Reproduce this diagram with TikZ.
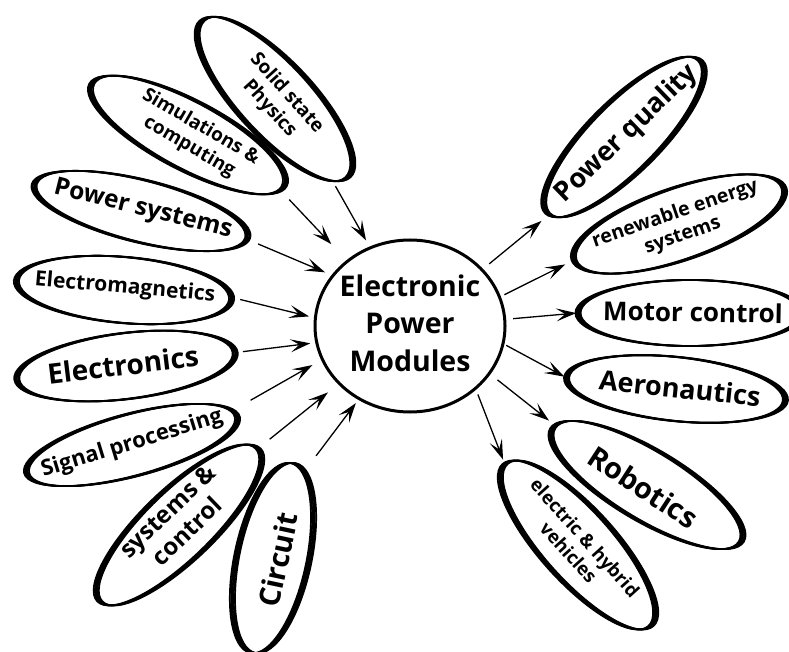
\documentclass[tikz,border=0pt]{standalone}
\usepackage{fontspec}
\setmainfont{Open Sans}
\usetikzlibrary{shapes.geometric,arrows.meta}
\newcommand{\fsz}[2]{\bfseries\fontsize{#1}{#2}\selectfont}
\begin{document}
\begin{tikzpicture}[x=1pt,y=-1pt,
  ell/.style={ellipse, draw, line width=1.7pt, inner sep=0pt,
    preaction={draw, transform canvas={xshift=1.3pt}},
    preaction={draw, transform canvas={xshift=-1.3pt}},
    preaction={draw, transform canvas={xshift=2.6pt}},
    preaction={draw, transform canvas={xshift=-2.6pt}}},
  txt/.style={align=center, inner sep=0pt},
  arr/.style={line width=1.3pt, -{Stealth[length=20pt,width=13pt,inset=9pt]}},
  hub/.style={ellipse, draw, line width=3pt, inner sep=0pt}]
\useasboundingbox (0,0) rectangle (789,652);

% hub
\node[hub, minimum width=190pt, minimum height=172pt] (c) at (410,326) {};
\node[txt, font=\fsz{28.5}{37.5}] (ct) at (410,323) {Electronic\\Power\\Modules};

% left ellipses
\node[ell, rotate=-47, minimum width=214pt, minimum height=74pt] (ss) at (275,99) {};
\node[txt, rotate=-48, font=\fsz{19}{23}] (sst) at (278,101) {Solid state\\Physics};

\node[ell, rotate=-28, minimum width=218pt, minimum height=68pt] (sim) at (188,135) {};
\node[txt, rotate=-30, font=\fsz{19}{23}] (simt) at (195,137) {Simulations \&\\computing};

\node[ell, rotate=-14, minimum width=220pt, minimum height=62pt] (ps) at (141,211) {};
\node[txt, rotate=-14, font=\fsz{24.5}{29}] (pst) at (143,210) {Power systems};

\node[ell, rotate=-5, minimum width=216pt, minimum height=66pt] (em) at (124,290) {};
\node[txt, rotate=-5, font=\fsz{21}{25}] (emt) at (125,288) {Electromagnetics};

\node[ell, rotate=7, minimum width=220pt, minimum height=66pt] (el) at (126,366) {};
\node[txt, rotate=7, font=\fsz{28}{33}] (elt) at (123,365) {Electronics};

\node[ell, rotate=15, minimum width=218pt, minimum height=62pt] (sp) at (132,445) {};
\node[txt, rotate=17, font=\fsz{22}{26}] (spt) at (132,444) {Signal processing};

\node[ell, rotate=44, minimum width=220pt, minimum height=70pt] (sc) at (179,525) {};
\node[txt, rotate=44, font=\fsz{24}{28}] (sct) at (177,521) {systems \&\\control};

\node[ell, rotate=78, minimum width=194pt, minimum height=72pt] (ci) at (273,558) {};
\node[txt, rotate=78, font=\fsz{29}{34}] (cit) at (278,560) {Circuit};

% right ellipses
\node[ell, rotate=45, minimum width=216pt, minimum height=70pt] (pq) at (624,137) {};
\node[txt, rotate=44, font=\fsz{27}{32}] (pqt) at (627,134) {Power quality};

\node[ell, rotate=19, minimum width=222pt, minimum height=72pt] (re) at (679,224) {};
\node[txt, rotate=19, font=\fsz{19.5}{23}] (ret) at (679,225) {renewable energy\\systems};

\node[ell, rotate=0, minimum width=224pt, minimum height=66pt] (mc) at (690,313) {};
\node[txt, rotate=-1, font=\fsz{26}{31}] (mct) at (693,312) {Motor control};

\node[ell, rotate=-6, minimum width=220pt, minimum height=64pt] (ae) at (676,389) {};
\node[txt, rotate=-6, font=\fsz{27}{32}] (aet) at (680,388) {Aeronautics};

\node[ell, rotate=-31, minimum width=220pt, minimum height=70pt] (ro) at (647,485) {};
\node[txt, rotate=-33, font=\fsz{29}{34}] (rot) at (643,487) {Robotics};

\node[ell, rotate=-48, minimum width=218pt, minimum height=72pt] (ev) at (578,545) {};
\node[txt, rotate=-48, font=\fsz{18.5}{22}] (evt) at (577,545) {electric \& hybrid\\vehicles};

% incoming arrows
\draw[arr, shorten <=5pt, shorten >=7pt] (ss.-8) -- (c.117);
\draw[arr, shorten <=12pt, shorten >=22pt] (sim.-3) -- (c.134);
\draw[arr, shorten <=11pt, shorten >=7pt] (ps.-1) -- (c.147);
\draw[arr, shorten <=8pt, shorten >=5pt] (em.1.5) -- (c.175);
\draw[arr, shorten <=7pt, shorten >=5pt] (el.-0.6) -- (c.190);
\draw[arr, shorten <=20pt, shorten >=10pt] (sp.4.6) -- (c.201);
\draw[arr, shorten <=14pt, shorten >=13pt] (sc.0.7) -- (c.219.5);
\draw[arr, shorten <=19pt, shorten >=4pt] (ci.-8.7) -- (c.235);

% outgoing arrows
\draw[arr, shorten <=8pt, shorten >=9pt] (c.38) -- (pq.181.4);
\draw[arr, shorten <=4pt, shorten >=9pt] (c.18.4) -- (re.180.2);
\draw[arr, shorten <=7pt, shorten >=1pt] (c.4) -- (mc.180.5);
\draw[arr, shorten <=2pt, shorten >=1.5pt] (c.-11.3) -- (ae.180.3);
\draw[arr, shorten <=9pt, shorten >=7pt] (c.-31) -- (ro.178.5);
\draw[arr, shorten <=5pt, shorten >=4pt] (c.-44.6) -- (ev.180);
\end{tikzpicture}
\end{document}
